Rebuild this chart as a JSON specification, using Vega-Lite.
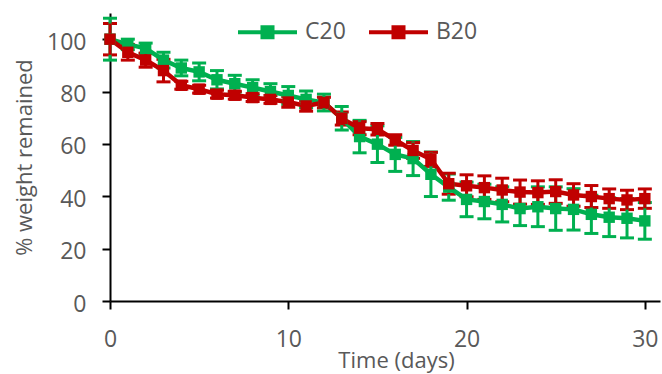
{
  "$schema": "https://vega.github.io/schema/vega-lite/v6.json",
  "autosize": "none",
  "width": 550,
  "height": 288,
  "padding": {"left": 110, "top": 13, "right": 2, "bottom": 73},
  "background": "white",
  "config": {
    "view": {"stroke": null},
    "font": "Open Sans",
    "axis": {
      "grid": false,
      "domainColor": "#000000",
      "domainWidth": 2,
      "tickColor": "#000000",
      "tickWidth": 2,
      "tickSize": 8,
      "labelFont": "Open Sans",
      "labelFontSize": 23,
      "labelColor": "#595959",
      "titleFont": "Open Sans",
      "titleFontSize": 22,
      "titleFontWeight": "normal",
      "titleColor": "#595959"
    },
    "axisX": {
      "labelBaseline": "top",
      "labelPadding": 19
    }
  },
  "data": {
    "values": [
      {"day": 0, "s": "C20", "v": 100, "e": 8},
      {"day": 1, "s": "C20", "v": 98, "e": 2},
      {"day": 2, "s": "C20", "v": 96.5, "e": 2},
      {"day": 3, "s": "C20", "v": 92, "e": 3},
      {"day": 4, "s": "C20", "v": 89, "e": 3},
      {"day": 5, "s": "C20", "v": 87.5, "e": 3.4},
      {"day": 6, "s": "C20", "v": 84.5, "e": 3.5},
      {"day": 7, "s": "C20", "v": 83, "e": 3.2},
      {"day": 8, "s": "C20", "v": 81.5, "e": 3},
      {"day": 9, "s": "C20", "v": 80, "e": 3},
      {"day": 10, "s": "C20", "v": 78.5, "e": 3.4},
      {"day": 11, "s": "C20", "v": 77, "e": 3.2},
      {"day": 12, "s": "C20", "v": 75.8, "e": 3.2},
      {"day": 13, "s": "C20", "v": 69.8, "e": 4.5},
      {"day": 14, "s": "C20", "v": 62.8, "e": 6.2},
      {"day": 15, "s": "C20", "v": 59.9, "e": 7},
      {"day": 16, "s": "C20", "v": 56, "e": 6.5},
      {"day": 17, "s": "C20", "v": 54.4, "e": 6.5},
      {"day": 18, "s": "C20", "v": 48.4, "e": 8.5},
      {"day": 19, "s": "C20", "v": 43.5, "e": 5},
      {"day": 20, "s": "C20", "v": 38.8, "e": 6.6},
      {"day": 21, "s": "C20", "v": 38, "e": 6.6},
      {"day": 22, "s": "C20", "v": 36.9, "e": 6.7},
      {"day": 23, "s": "C20", "v": 35.3, "e": 6.5},
      {"day": 24, "s": "C20", "v": 36, "e": 7.6},
      {"day": 25, "s": "C20", "v": 35.3, "e": 8.3},
      {"day": 26, "s": "C20", "v": 35, "e": 7.9},
      {"day": 27, "s": "C20", "v": 33.1, "e": 7.3},
      {"day": 28, "s": "C20", "v": 32, "e": 7.4},
      {"day": 29, "s": "C20", "v": 31.6, "e": 7.5},
      {"day": 30, "s": "C20", "v": 30.6, "e": 7},
      {"day": 0, "s": "B20", "v": 100, "e": 6},
      {"day": 1, "s": "B20", "v": 95, "e": 3},
      {"day": 2, "s": "B20", "v": 92, "e": 2.7},
      {"day": 3, "s": "B20", "v": 88, "e": 4.3},
      {"day": 4, "s": "B20", "v": 82.4, "e": 1.5},
      {"day": 5, "s": "B20", "v": 80.9, "e": 1.5},
      {"day": 6, "s": "B20", "v": 79, "e": 1.5},
      {"day": 7, "s": "B20", "v": 78.6, "e": 1.5},
      {"day": 8, "s": "B20", "v": 77.7, "e": 1.5},
      {"day": 9, "s": "B20", "v": 77, "e": 1.5},
      {"day": 10, "s": "B20", "v": 76, "e": 2},
      {"day": 11, "s": "B20", "v": 74.5, "e": 2},
      {"day": 12, "s": "B20", "v": 75.8, "e": 2},
      {"day": 13, "s": "B20", "v": 69.7, "e": 2.5},
      {"day": 14, "s": "B20", "v": 66, "e": 2.5},
      {"day": 15, "s": "B20", "v": 65.6, "e": 2.2},
      {"day": 16, "s": "B20", "v": 61.5, "e": 2},
      {"day": 17, "s": "B20", "v": 57.5, "e": 3},
      {"day": 18, "s": "B20", "v": 54.1, "e": 2.7},
      {"day": 19, "s": "B20", "v": 44.8, "e": 4},
      {"day": 20, "s": "B20", "v": 44, "e": 4.2},
      {"day": 21, "s": "B20", "v": 43.3, "e": 4.5},
      {"day": 22, "s": "B20", "v": 42.4, "e": 4.5},
      {"day": 23, "s": "B20", "v": 41.6, "e": 4.6},
      {"day": 24, "s": "B20", "v": 41.4, "e": 4.5},
      {"day": 25, "s": "B20", "v": 41.8, "e": 4.5},
      {"day": 26, "s": "B20", "v": 40.5, "e": 4.3},
      {"day": 27, "s": "B20", "v": 39.9, "e": 4.2},
      {"day": 28, "s": "B20", "v": 39.1, "e": 3.7},
      {"day": 29, "s": "B20", "v": 38.6, "e": 3.7},
      {"day": 30, "s": "B20", "v": 39.1, "e": 3.7}
    ]
  },
  "encoding": {
    "x": {
      "field": "day",
      "type": "quantitative",
      "scale": {"domain": [0, 30.85], "nice": false, "zero": false},
      "axis": {
        "values": [0, 10, 20, 30],
        "title": "Time (days)",
        "labelBaseline": "top",
        "labelPadding": 19,
        "labelFlush": false,
        "titleX": 286,
        "titleY": 66,
        "titleBaseline": "alphabetic",
        "titleAnchor": "middle",
        "titleAlign": "center"
      }
    },
    "y": {
      "field": "v",
      "type": "quantitative",
      "scale": {"domain": [0, 110], "nice": false},
      "axis": {
        "values": [0, 20, 40, 60, 80, 100],
        "title": "% weight remained",
        "labelPadding": 16,
        "labelBaseline": "middle",
        "labelOffset": 3,
        "labelFlush": false,
        "titleX": -79,
        "titleY": 144,
        "titleAngle": 270,
        "titleBaseline": "alphabetic",
        "titleAlign": "center"
      }
    },
    "color": {
      "field": "s",
      "type": "nominal",
      "sort": ["C20", "B20"],
      "scale": {"domain": ["C20", "B20"], "range": ["#00B050", "#C00000"]},
      "legend": {
        "title": null,
        "orient": "none",
        "direction": "horizontal",
        "legendX": 126,
        "legendY": -12.5,
        "padding": 0,
        "symbolType": "M-1,0H1M-0.17,-0.17H0.17V0.17H-0.17Z",
        "symbolSize": 3481,
        "symbolStrokeWidth": 4,
        "labelOffset": 6,
        "columnPadding": 15,
        "labelFont": "Open Sans",
        "labelFontSize": 23,
        "labelColor": "#595959",
        "labelBaseline": "middle",
        "encode": {
          "symbols": {
            "update": {
              "fill": {"scale": "color", "field": "value"},
              "stroke": {"scale": "color", "field": "value"},
              "strokeWidth": {"value": 4},
              "opacity": {"value": 1},
              "fillOpacity": {"value": 1}
            }
          }
        }
      }
    }
  },
  "layer": [
    {
      "mark": {
        "type": "errorbar",
        "ticks": {"size": 14, "thickness": 3, "opacity": 1},
        "rule": {"opacity": 1},
        "thickness": 3,
        "opacity": 1
      },
      "encoding": {
        "yError": {"field": "e"}
      }
    },
    {
      "mark": {"type": "line", "strokeWidth": 4.5}
    },
    {
      "mark": {"type": "point", "shape": "square", "filled": true, "size": 130, "opacity": 1}
    }
  ]
}
